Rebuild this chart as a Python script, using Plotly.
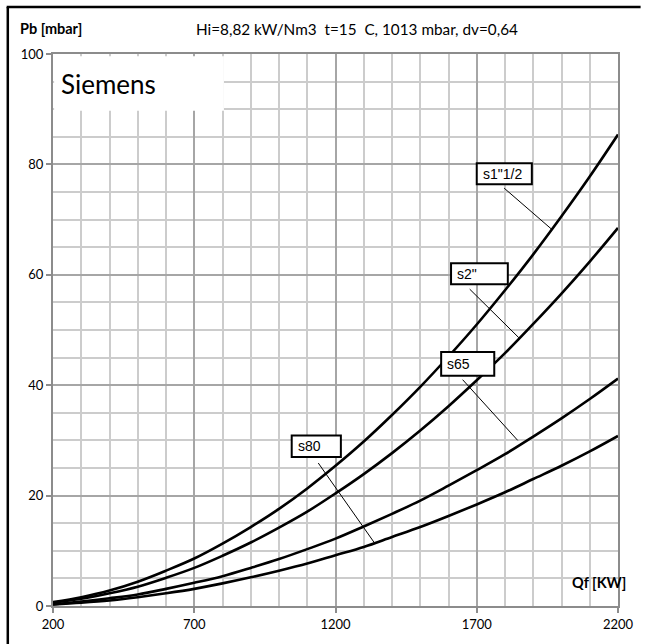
import plotly.graph_objects as go

# ---- data ----
qf = [200, 300, 400, 500, 600, 700, 800, 900, 1000, 1100, 1200, 1300, 1400,
      1500, 1600, 1700, 1800, 1900, 2000, 2100, 2200]
s1_12 = [0.7, 1.6, 2.8, 4.4, 6.4, 8.6, 11.3, 14.3, 17.6, 21.3, 25.4, 29.8, 34.6,
         39.7, 45.2, 51.0, 57.2, 63.7, 70.6, 77.8, 85.4]
s2 = [0.6, 1.3, 2.3, 3.5, 5.1, 6.9, 9.1, 11.5, 14.2, 17.1, 20.4, 23.9, 27.7,
      31.8, 36.2, 40.9, 45.8, 51.1, 56.6, 62.4, 68.5]
s65 = [0.3, 0.8, 1.4, 2.1, 3.1, 4.2, 5.4, 6.9, 8.5, 10.3, 12.2, 14.4, 16.7,
       19.1, 21.8, 24.6, 27.5, 30.7, 34.0, 37.5, 41.2]
s80 = [0.3, 0.6, 1.0, 1.6, 2.3, 3.1, 4.1, 5.2, 6.4, 7.7, 9.2, 10.7, 12.5,
       14.3, 16.3, 18.4, 20.6, 23.0, 25.4, 28.0, 30.8]
series = [s1_12, s2, s65, s80]

x_ticks = [200, 700, 1200, 1700, 2200]
y_ticks = [0, 20, 40, 60, 80, 100]

# label boxes: name, box x0, x1, y top, y bottom, leader from (x,y) to (x,y)
labels = [
    ('s1"1/2', 1700, 1895, 80.2, 76.4, 1797, 75.7, 1964, 68.3),
    ('s2"',    1609, 1810, 62.1, 58.3, 1675, 57.4, 1849, 48.6),
    ('s65',    1574, 1762, 46.0, 41.7, 1650, 41.0, 1845, 30.0),
    ('s80',    1045, 1219, 30.9, 27.0, 1139, 25.9, 1337, 11.5),
]

FONT = "Lato"
fig = go.Figure()
for ys in series:
    fig.add_trace(go.Scatter(x=qf, y=ys, mode="lines",
                             line=dict(color="black", width=2.6, shape="spline"),
                             showlegend=False, hoverinfo="skip"))

shapes = []
annotations = []
# Siemens white box
shapes.append(dict(type="rect", xref="x", yref="y", x0=204, x1=805, y0=89.7, y1=99.6,
                   fillcolor="white", line=dict(width=0), layer="above"))
annotations.append(dict(xref="x", yref="y", x=220, y=94.6, text="Siemens",
                        showarrow=False, xanchor="left", yanchor="middle",
                        font=dict(family=FONT, size=26, color="black")))

for name, bx0, bx1, byt, byb, lx0, ly0, lx1, ly1 in labels:
    shapes.append(dict(type="line", xref="x", yref="y", x0=lx0, y0=ly0, x1=lx1, y1=ly1,
                       line=dict(color="black", width=1), layer="above"))
    shapes.append(dict(type="rect", xref="x", yref="y", x0=bx0, x1=bx1, y0=byb, y1=byt,
                       fillcolor="white", line=dict(color="black", width=2), layer="above"))
    annotations.append(dict(xref="x", yref="y", x=bx0 + 15, y=(byt + byb) / 2, text=name,
                            showarrow=False, xanchor="left", yanchor="middle",
                            font=dict(family="Liberation Sans", size=14, color="black")))

# outer frame (left and top)
shapes.append(dict(type="line", xref="paper", yref="paper", x0=-0.080, x1=-0.080,
                   y0=1.085, y1=-0.07, line=dict(color="black", width=2.5)))
shapes.append(dict(type="line", xref="paper", yref="paper", x0=-0.082, x1=1.04,
                   y0=1.085, y1=1.085, line=dict(color="black", width=2.5)))

annotations.append(dict(xref="paper", yref="paper", x=-0.062, y=1.046, text="<b>Pb [mbar]</b>",
                        showarrow=False, xanchor="left", yanchor="middle",
                        font=dict(family=FONT, size=14.5, color="black")))
annotations.append(dict(xref="paper", yref="paper", x=0.538, y=1.046,
                        text="Hi=8,82 kW/Nm3  t=15  C, 1013 mbar, dv=0,64",
                        showarrow=False, xanchor="center", yanchor="middle",
                        font=dict(family=FONT, size=15.3, color="black")))
annotations.append(dict(xref="paper", yref="paper", x=1.018, y=0.043, text="<b>Qf [KW]</b>",
                        showarrow=False, xanchor="right", yanchor="middle",
                        font=dict(family=FONT, size=14.5, color="black")))

fig.update_layout(
    width=646, height=644,
    margin=dict(l=53, r=18, t=54, b=34, pad=0),
    paper_bgcolor="white", plot_bgcolor="white",
    shapes=shapes, annotations=annotations,
    xaxis=dict(range=[200, 2200], tickvals=x_ticks, ticktext=[str(v) for v in x_ticks],
               showgrid=True, gridcolor="#a6a6a6", gridwidth=2,
               minor=dict(dtick=100, tick0=200, showgrid=True, gridcolor="#cccccc", gridwidth=2),
               showline=True, linecolor="#8c8c8c", linewidth=2, mirror=True,
               ticks="outside", ticklen=5, tickcolor="#8c8c8c", tickwidth=2,
               tickfont=dict(family=FONT, size=13, color="black"), zeroline=False),
    yaxis=dict(range=[0, 100], tickvals=y_ticks, ticktext=[str(v) for v in y_ticks],
               showgrid=True, gridcolor="#a6a6a6", gridwidth=2,
               minor=dict(dtick=5, tick0=0, showgrid=True, gridcolor="#cccccc", gridwidth=2),
               showline=True, linecolor="#8c8c8c", linewidth=2, mirror=True,
               ticks="outside", ticklen=5, tickcolor="#8c8c8c", tickwidth=2,
               tickfont=dict(family=FONT, size=13, color="black"), zeroline=False),
)

fig.write_html("out.html")
